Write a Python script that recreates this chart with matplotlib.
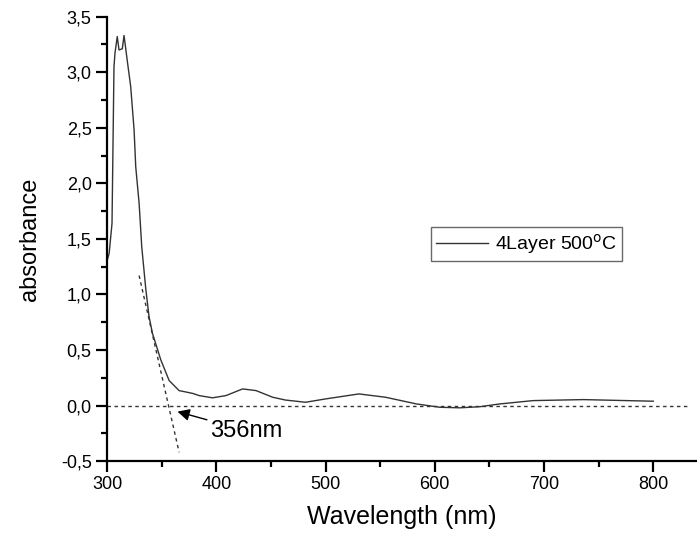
import matplotlib
matplotlib.use("Agg")
import matplotlib.pyplot as plt
from matplotlib.ticker import MultipleLocator, FuncFormatter

plt.rcParams['font.family'] = ['Liberation Sans', 'DejaVu Sans']

# absorbance spectrum
wavelength = [300, 302, 304.6, 306.4, 307.3, 309.4, 311, 314, 315.6, 318.6, 321.7,
              324.8, 326.3, 329.4, 331.8, 335.5, 338.5, 341.6, 349.3, 356.9, 366,
              378.3, 384.4, 396.6, 408.9, 424.1, 436.4, 451.7, 463.3, 481.7, 500,
              530.6, 555, 583.2, 604.6, 623, 641.3, 659.6, 690, 736, 797, 800]
absorbance = [1.30, 1.37, 1.64, 3.05, 3.17, 3.32, 3.20, 3.21, 3.33, 3.10, 2.87,
              2.48, 2.15, 1.82, 1.43, 1.05, 0.80, 0.65, 0.41, 0.225, 0.135,
              0.11, 0.09, 0.07, 0.09, 0.15, 0.135, 0.075, 0.05, 0.03, 0.06,
              0.105, 0.075, 0.015, -0.015, -0.02, -0.01, 0.015, 0.045, 0.054, 0.04, 0.04]

# tangent line used for the band edge
tangent_x = [329.4, 366]
tangent_y = [1.17, -0.42]
baseline_x = [300, 832]
baseline_y = [0, 0]
edge_label = "356nm"
arrow_tip = (364.5, -0.054)

fig = plt.figure(figsize=(6.97, 5.35), dpi=100)
ax = fig.add_axes([0.1535, 0.138, 0.8465, 0.831])

ax.plot(wavelength, absorbance, color="#333333", lw=1.0, label="4Layer 500$^{\\mathrm{o}}$C")
ax.plot(tangent_x, tangent_y, color="#333333", lw=1.0, ls=(0, (2.5, 2.5)))
ax.plot(baseline_x, baseline_y, color="#333333", lw=1.0, ls=(0, (2.5, 2.5)))

ax.annotate(edge_label, xy=arrow_tip, xytext=(394, -0.225), fontsize=17, va="center", ha="left",
            arrowprops=dict(arrowstyle="-|>", color="black", lw=1.0, mutation_scale=18,
                            shrinkA=0, shrinkB=0),
            )

ax.set_xlim(300, 840)
ax.set_ylim(-0.5, 3.5)
ax.xaxis.set_major_locator(MultipleLocator(100))
ax.xaxis.set_minor_locator(MultipleLocator(50))
ax.yaxis.set_major_locator(MultipleLocator(0.5))
ax.yaxis.set_minor_locator(MultipleLocator(0.25))
ax.yaxis.set_major_formatter(FuncFormatter(lambda v, p: f"{v:.1f}".replace(".", ",")))

for s in ["top", "right"]:
    ax.spines[s].set_visible(False)
for s in ["left", "bottom"]:
    ax.spines[s].set_linewidth(1.6)
ax.tick_params(which="major", direction="out", length=8, width=1.6, labelsize=13, pad=3)
ax.tick_params(which="minor", direction="out", length=4, width=1.6)

ax.set_xlabel("Wavelength (nm)", fontsize=18, labelpad=8)
ax.set_ylabel("absorbance", fontsize=17, labelpad=14)

leg = ax.legend(loc="upper left", bbox_to_anchor=(0.618, 0.576), bbox_transform=fig.transFigure,
                borderaxespad=0, fontsize=14, frameon=True, fancybox=False, edgecolor="#444444",
                handlelength=2.7, borderpad=0.25, handletextpad=0.36)
leg.get_frame().set_linewidth(1.0)

fig.savefig("out.png", dpi=100)
